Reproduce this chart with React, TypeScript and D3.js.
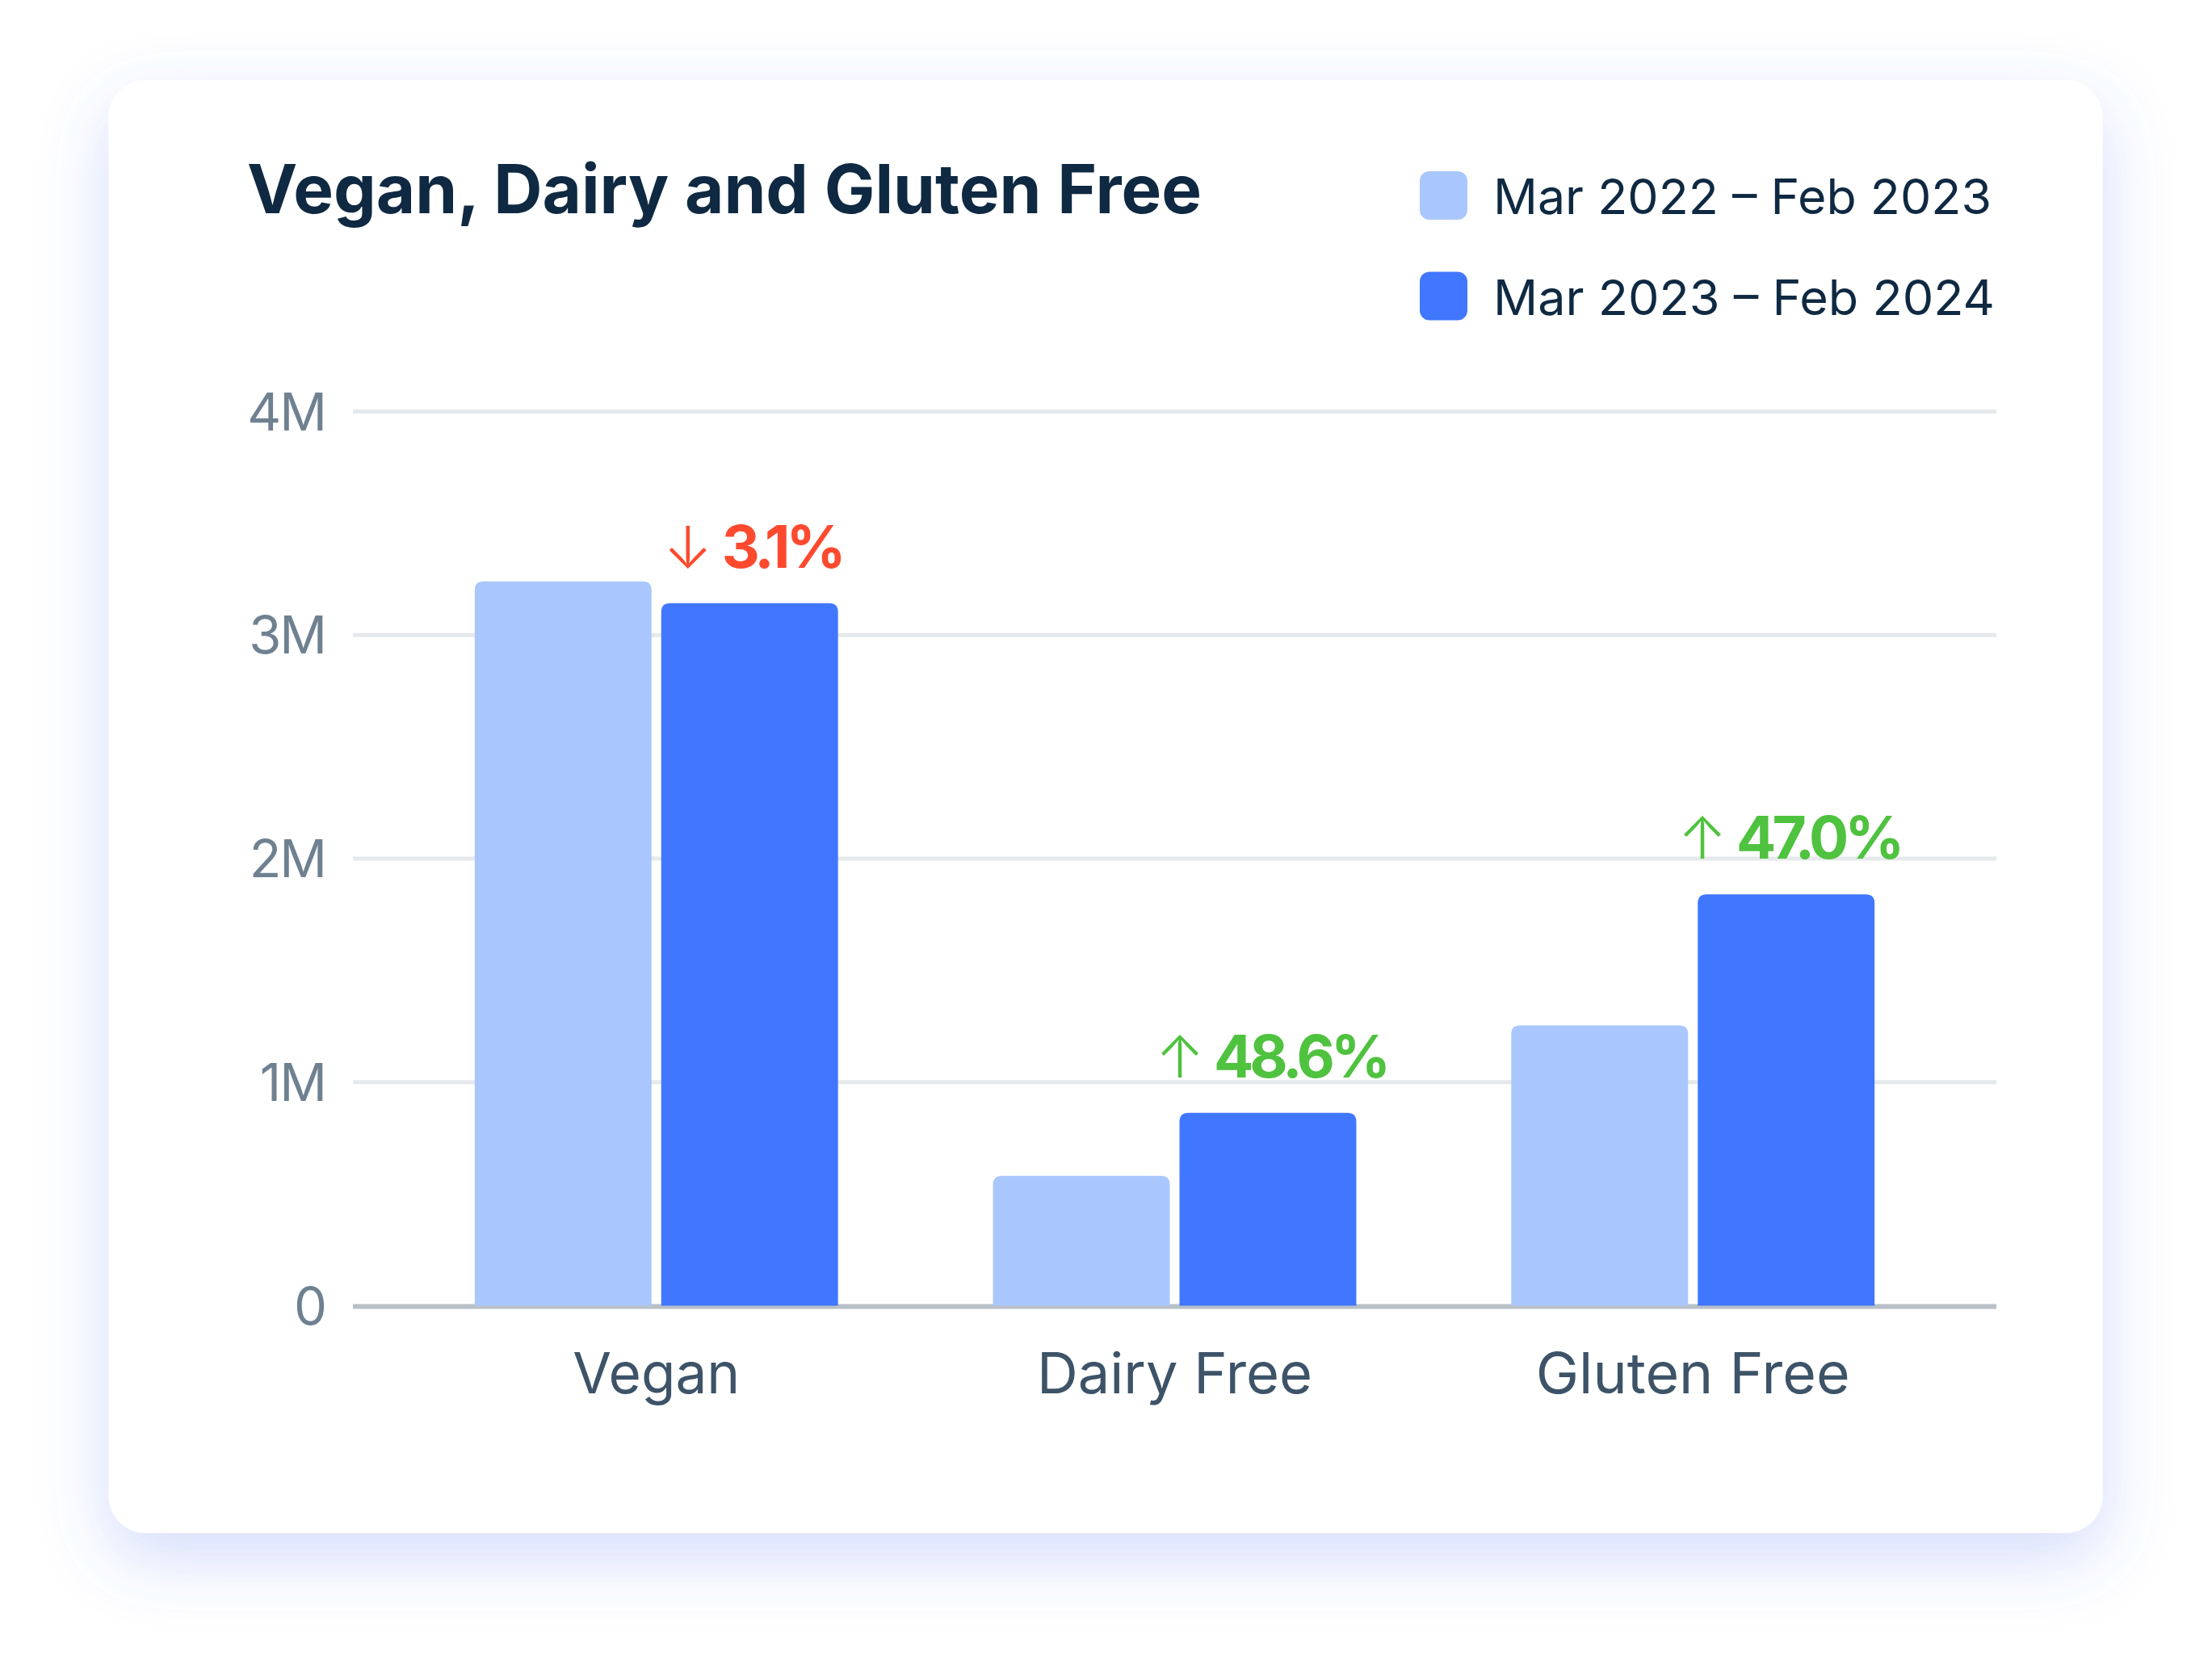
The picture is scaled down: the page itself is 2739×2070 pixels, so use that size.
import React from "react";
import * as d3 from "d3";

const categories = ["Vegan", "Dairy Free", "Gluten Free"];
const seriesNames = ["Mar 2022 – Feb 2023", "Mar 2023 – Feb 2024"];
const prevValues = [3.24, 0.581, 1.254]; // millions
const currValues = [3.143, 0.863, 1.84]; // millions
const changePct = [-3.1, 48.6, 47.0];
const yTickValues = [0, 1, 2, 3, 4];
const yTickLabels = ["0", "1M", "2M", "3M", "4M"];
const seriesColors = ["#a9c7fd", "#4176ff"];

const W = 2739;
const H = 2070;
const FONT = "Inter, 'Noto Sans', sans-serif";

function topRoundedBar(x: number, y: number, w: number, h: number, r: number) {
  const rr = Math.min(r, h, w / 2);
  return `M${x},${y + h}V${y + rr}Q${x},${y} ${x + rr},${y}H${x + w - rr}Q${x + w},${y} ${x + w},${y + rr}V${y + h}Z`;
}

export default function App() {
  const plotLeft = 437;
  const plotRight = 2472;
  const y = d3.scaleLinear().domain([0, 4]).range([1616.5, 509.5]);
  const x0 = d3
    .scaleBand<string>()
    .domain(categories)
    .range([plotLeft, plotRight])
    .paddingInner(0.299)
    .paddingOuter(0.235);
  const x1 = d3
    .scaleBand<string>()
    .domain(seriesNames)
    .range([0, x0.bandwidth()])
    .paddingInner(0.052);

  const data = categories.map((c, i) => ({
    cat: c,
    vals: [prevValues[i], currValues[i]],
    change: changePct[i],
  }));

  const catLabelWidths = [207, 341, 389];

  return (
    <svg
      width={W}
      height={H}
      style={{ position: "absolute", left: 0, top: 0, display: "block" }}
      fontFamily={FONT}
    >
      <defs>
        <filter id="cardShadow" x="-20%" y="-20%" width="140%" height="140%">
          <feDropShadow dx="0" dy="30" stdDeviation="42" floodColor="#4a70f0" floodOpacity="0.24" />
        </filter>
      </defs>
      <rect x={0} y={0} width={W} height={H} fill="#ffffff" />
      <rect
        x={134.5}
        y={99}
        width={2469}
        height={1799}
        rx={46}
        ry={46}
        fill="#ffffff"
        filter="url(#cardShadow)"
      />

      {/* Title */}
      <text
        x={306}
        y={264}
        fontSize={84}
        fontWeight={700}
        fill="#0f2942"
        textLength={1182}
        lengthAdjust="spacingAndGlyphs"
      >
        Vegan, Dairy and Gluten Free
      </text>

      {/* Legend */}
      {seriesNames.map((s, i) => (
        <g key={s} transform={`translate(0, ${i * 124.5})`}>
          <rect x={1758} y={212} width={59} height={60} rx={12} ry={12} fill={seriesColors[i]} />
          <text
            x={1849}
            y={265}
            fontSize={61}
            fontWeight={400}
            fill="#0f2942"
            textLength={i === 0 ? 617 : 621}
            lengthAdjust="spacingAndGlyphs"
          >
            {s}
          </text>
        </g>
      ))}

      {/* Gridlines */}
      {yTickValues
        .filter((v) => v > 0)
        .map((v) => (
          <line
            key={v}
            x1={plotLeft}
            x2={plotRight}
            y1={y(v)}
            y2={y(v)}
            stroke="#e6e9ec"
            strokeWidth={5}
          />
        ))}
      {/* Baseline axis */}
      <line x1={plotLeft} x2={plotRight} y1={y(0) + 1} y2={y(0) + 1} stroke="#b8c0c8" strokeWidth={6} />

      {/* Y tick labels */}
      {yTickValues.map((v, i) => (
        <text
          key={v}
          x={403}
          y={y(v) + 23}
          textAnchor="end"
          fontSize={65}
          letterSpacing={-2}
          fill="#6f8191"
        >
          {yTickLabels[i]}
        </text>
      ))}

      {/* Bars */}
      {data.map((d) => (
        <g key={d.cat} transform={`translate(${x0(d.cat)},0)`}>
          {d.vals.map((v, j) => {
            const bx = x1(seriesNames[j]) as number;
            const by = y(v);
            return (
              <path
                key={j}
                d={topRoundedBar(bx, by, x1.bandwidth(), y(0) - by, 11)}
                fill={seriesColors[j]}
              />
            );
          })}
        </g>
      ))}

      {/* Change labels */}
      {data.map((d) => {
        const bx = (x0(d.cat) as number) + (x1(seriesNames[1]) as number);
        const cx = bx + x1.bandwidth() / 2 + 4;
        const up = d.change >= 0;
        const color = up ? "#4fc23f" : "#fd4a2f";
        return (
          <text
            key={d.cat}
            x={cx}
            y={y(d.vals[1]) - 44}
            textAnchor="middle"
            fontSize={73}
            fontWeight={700}
            fill={color}
          >
            <tspan fontWeight={300} fontSize={72}>{up ? "↑" : "↓"}</tspan>
            <tspan dx={12} letterSpacing={-5}>{`${Math.abs(d.change).toFixed(1)}%`}</tspan>
          </text>
        );
      })}

      {/* Category labels */}
      {data.map((d, i) => (
        <text
          key={d.cat}
          x={(x0(d.cat) as number) + x0.bandwidth() / 2}
          y={1725}
          textAnchor="middle"
          fontSize={70}
          fill="#3d5368"
          textLength={catLabelWidths[i]}
          lengthAdjust="spacingAndGlyphs"
        >
          {d.cat}
        </text>
      ))}
    </svg>
  );
}
